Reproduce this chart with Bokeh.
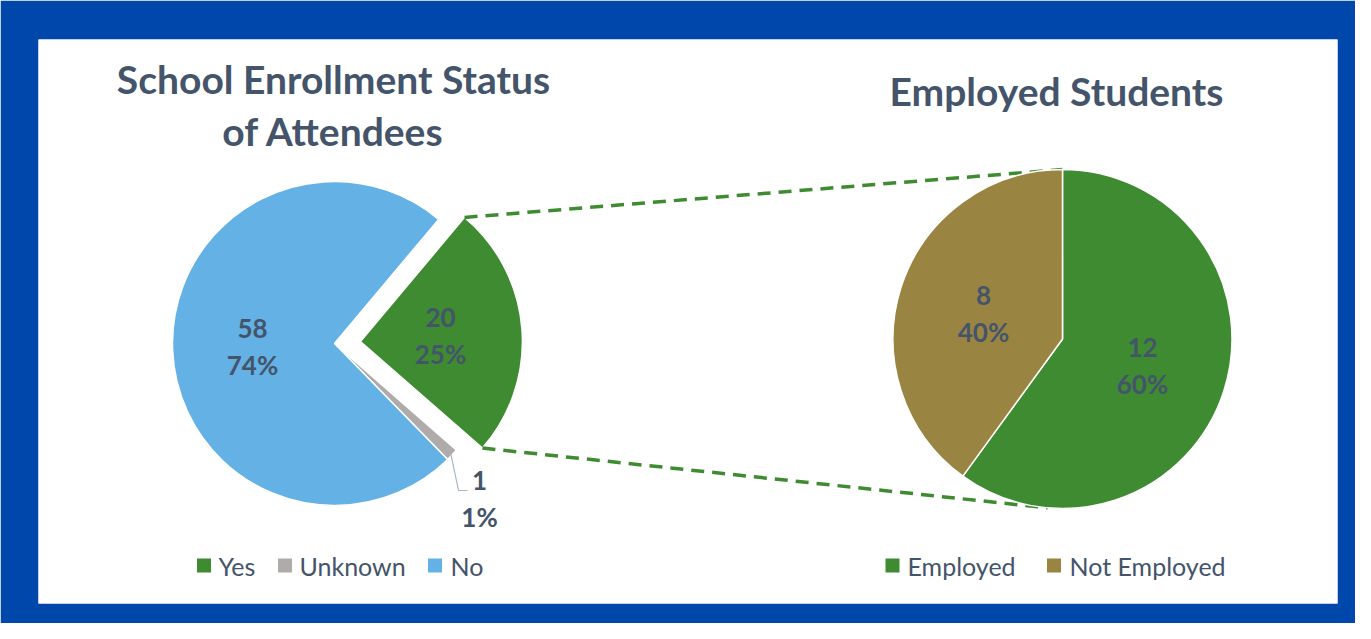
import numpy as np
from bokeh.plotting import figure
from bokeh.models import Range1d, ColumnDataSource
from bokeh.embed import file_html
from bokeh.resources import INLINE
from bokeh.core.properties import value

# ---------------- data ----------------
enroll_cats = ["Yes", "Unknown", "No"]
enroll_vals = [20, 1, 58]
enroll_pct = ["25%", "1%", "74%"]
enroll_colors = ["#3E8B31", "#AFABAB", "#63B1E5"]

emp_cats = ["Employed", "Not Employed"]
emp_vals = [12, 8]
emp_pct = ["60%", "40%"]
emp_colors = ["#3E8B31", "#9A8442"]

title_left = ["School Enrollment Status", "of Attendees"]
title_right = ["Employed Students"]

# ---------------- layout ----------------
W, H = 1355, 623
ML, MT, MR, MB = 38, 39, 18, 20
FW = W - ML - MR
FH = H - MT - MB
TXT = "#44546A"
FONT = "Lato"


def X(xr):
    return xr - ML


def Y(yr):
    return (MT + FH) - yr


p = figure(width=W, height=H, output_backend="svg", toolbar_location=None,
           x_axis_location=None, y_axis_location=None,
           x_range=Range1d(0, FW), y_range=Range1d(0, FH),
           min_border_left=ML, min_border_right=MR, min_border_top=MT, min_border_bottom=MB,
           frame_width=FW, frame_height=FH)
p.border_fill_color = "#0047AB"
p.background_fill_color = "white"
p.outline_line_color = None
p.xgrid.visible = False
p.ygrid.visible = False


def pie_geom(vals, first_deg):
    tot = float(sum(vals))
    cum = np.cumsum([0] + list(vals)) / tot * 360.0 + first_deg
    return cum[:-1], cum[1:]


# ---------------- left pie ----------------
lcx, lcy, lr = X(334), Y(343), 162
explode = [26, 0, 0]
ls, le = pie_geom(enroll_vals, 40)
lmid = (ls + le) / 2
lx = [lcx + e * np.sin(np.radians(m)) for e, m in zip(explode, lmid)]
ly = [lcy + e * np.cos(np.radians(m)) for e, m in zip(explode, lmid)]
src_l = ColumnDataSource(dict(x=lx, y=ly,
                              start=np.radians(90 - ls), end=np.radians(90 - le),
                              color=enroll_colors, cat=enroll_cats))
p.wedge(x="x", y="y", radius=lr, start_angle="start", end_angle="end",
        direction="clock", fill_color="color", line_color="white", line_width=1.5,
        source=src_l)

# ---------------- connector lines ----------------
rcx, rcy, rr = X(1062), Y(338.5), 169.5
gx, gy = lx[0], ly[0]
top_start = (gx + lr * np.sin(np.radians(ls[0])), gy + lr * np.cos(np.radians(ls[0])))
bot_start = (gx + lr * np.sin(np.radians(le[0])), gy + lr * np.cos(np.radians(le[0])))
top_end = (rcx + rr * np.sin(np.radians(0)), rcy + rr * np.cos(np.radians(0)))
bot_end = (rcx + rr * np.sin(np.radians(185)), rcy + rr * np.cos(np.radians(185)))
p.segment(x0=[top_start[0], bot_start[0]], y0=[top_start[1], bot_start[1]],
          x1=[top_end[0], bot_end[0]], y1=[top_end[1], bot_end[1]],
          line_color="#3E8B31", line_width=3.5, line_dash="13 8")

# ---------------- right pie ----------------
rs, re_ = pie_geom(emp_vals, 0)
src_r = ColumnDataSource(dict(x=[rcx] * len(emp_vals), y=[rcy] * len(emp_vals),
                              start=np.radians(90 - rs), end=np.radians(90 - re_),
                              color=emp_colors, cat=emp_cats))
p.wedge(x="x", y="y", radius=rr, start_angle="start", end_angle="end",
        direction="clock", fill_color="color", line_color="white", line_width=1.5,
        source=src_r)

# ---------------- data labels ----------------
l_lab_x = [440, 479, 252]
l_lab_y1 = [317, 480, 328]
r_lab_x = [1142, 983]
r_lab_y1 = [347, 295]
gap = 36

lab_src = ColumnDataSource(dict(
    x=[X(v) for v in l_lab_x] + [X(v) for v in r_lab_x],
    y1=[Y(v) for v in l_lab_y1] + [Y(v) for v in r_lab_y1],
    y2=[Y(v + gap) for v in l_lab_y1] + [Y(v + gap) for v in r_lab_y1],
    n=[str(v) for v in enroll_vals] + [str(v) for v in emp_vals],
    pct=enroll_pct + emp_pct))
for col_y, col_t in (("y1", "n"), ("y2", "pct")):
    p.text(x="x", y=col_y, text=col_t, source=lab_src, text_font=value(FONT),
           text_font_style="bold", text_font_size="26px", text_color=TXT,
           text_align="center", text_baseline="alphabetic")

# leader line for the small "Unknown" slice
um = np.radians(lmid[1])
ux0, uy0 = lcx + (lr - 2) * np.sin(um), lcy + (lr - 2) * np.cos(um)
p.line(x=[ux0, X(458), X(467)], y=[uy0, Y(490), Y(490)],
       line_color="#A9B6C8", line_width=1.2)

# ---------------- titles ----------------
p.text(x=[X(333), X(333)], y=[Y(78), Y(130)], text=title_left,
       text_font=value(FONT), text_font_style="bold", text_font_size="39px",
       text_color=TXT, text_align="center", text_baseline="alphabetic")
p.text(x=[X(1056)], y=[Y(90)], text=title_right,
       text_font=value(FONT), text_font_style="bold", text_font_size="39px",
       text_color=TXT, text_align="center", text_baseline="alphabetic")

# ---------------- legends ----------------
leg_sq_x = [203.5, 284.5, 434.5, 892, 1053.5]
leg_tx_x = [218, 299, 450, 907, 1069]
leg_y = 565
p.rect(x=[X(v) for v in leg_sq_x], y=[Y(leg_y)] * 5, width=14, height=14,
       fill_color=enroll_colors + emp_colors, line_color=None)
p.text(x=[X(v) for v in leg_tx_x], y=[Y(leg_y)] * 5, text=enroll_cats + emp_cats,
       text_font=value(FONT), text_font_size="25px", text_color=TXT,
       text_align="left", text_baseline="middle")

open("out.html", "w").write(file_html(p, INLINE))
